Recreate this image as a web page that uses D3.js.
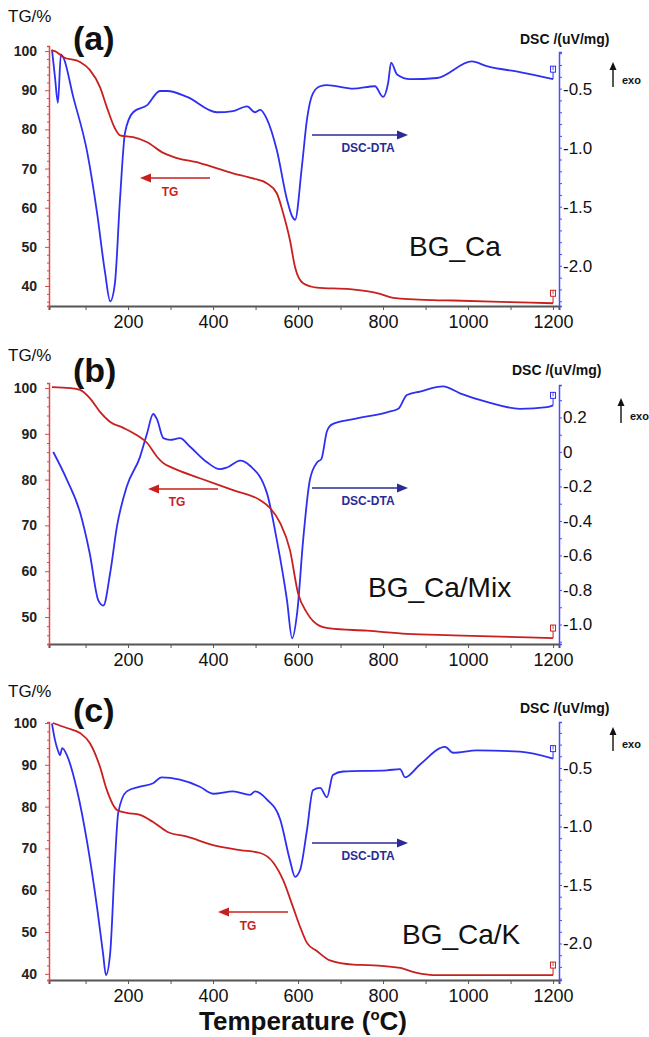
<!DOCTYPE html>
<html>
<head>
<meta charset="utf-8">
<script src="https://cdn.jsdelivr.net/npm/d3@7"></script>
<style>
  body { margin: 0; background: #fff; }
  svg { display: block; font-family: "Liberation Sans", Arial, sans-serif; }
</style>
</head>
<body>
<svg id="chart" width="649" height="1037"></svg>
<script>
/* global d3 */
// ---- data: [temperature °C, value] ----
var tempTicks = [200, 400, 600, 800, 1000, 1200];
var sampleNames = ["BG_Ca", "BG_Ca/Mix", "BG_Ca/K"];
var panelLetters = ["(a)", "(b)", "(c)"];
var tgTicksA = [40, 50, 60, 70, 80, 90, 100];
var tgTicksB = [50, 60, 70, 80, 90, 100];
var tgTicksC = [40, 50, 60, 70, 80, 90, 100];
var dscTicksA = [-2.0, -1.5, -1.0, -0.5];
var dscTicksB = [-1.0, -0.8, -0.6, -0.4, -0.2, 0, 0.2];
var dscTicksC = [-2.0, -1.5, -1.0, -0.5];

var tgA = [[21,100.2],[28,100],[47,98.5],[87,97.2],[110,95.2],[134,90.8],[150,85.7],[169,80.3],[181,78.5],
  [212,78],[244,76.8],[283,74],[306,73],[369,71.4],[447,68.8],[494,67.5],[527,66.2],[550,63.7],[565,58.6],
  [581,51.7],[593,44.8],[612,40.7],[644,39.6],[722,39.2],[793,38],[824,37],[918,36.4],[965,36.3],[1100,35.9],[1200,35.6]];
var dscA = [[21,-0.17],[28,-0.40],[35,-0.62],[42,-0.21],[47,-0.23],[71,-0.57],[104,-1.04],[127,-1.55],[146,-2.06],
  [158,-2.30],[169,-2.15],[181,-1.44],[193,-0.87],[212,-0.70],[245,-0.64],[275,-0.52],[292,-0.52],[339,-0.57],
  [409,-0.70],[447,-0.69],[480,-0.65],[499,-0.70],[511,-0.68],[527,-0.76],[550,-1.02],[574,-1.44],[586,-1.58],
  [593,-1.61],[609,-1.16],[621,-0.76],[635,-0.54],[652,-0.48],[668,-0.47],[730,-0.50],[781,-0.48],[800,-0.57],
  [812,-0.45],[819,-0.28],[833,-0.38],[864,-0.42],[927,-0.41],[1009,-0.27],[1044,-0.31],[1122,-0.36],[1200,-0.42]];

var tgB = [[21,100.2],[64,100],[87,99.6],[110,97.8],[134,94.8],[158,92.6],[189,91.3],[221,89.7],[245,88],[268,85],
  [283,83.6],[306,82.5],[369,80.3],[447,77.7],[511,75.5],[534,73.8],[558,70.5],[581,64.6],[600,55.2],[621,50.9],
  [652,48],[675,47.5],[762,47],[856,46.3],[965,46],[1200,45.4]];
var dscB = [[24,0.0],[56,-0.16],[87,-0.35],[110,-0.59],[130,-0.86],[142,-0.89],[158,-0.70],[174,-0.43],[197,-0.20],
  [228,-0.03],[245,0.11],[259,0.22],[268,0.19],[283,0.08],[299,0.07],[322,0.08],[346,0.03],[386,-0.06],[416,-0.10],
  [433,-0.09],[464,-0.05],[487,-0.08],[527,-0.24],[550,-0.51],[574,-0.86],[586,-1.08],[598,-0.93],[612,-0.51],
  [628,-0.16],[645,-0.06],[655,-0.04],[668,0.12],[680,0.16],[730,0.19],[809,0.23],[836,0.25],[856,0.33],[887,0.35],
  [941,0.38],[981,0.34],[1044,0.29],[1122,0.25],[1186,0.26],[1200,0.27]];

var tgC = [[23,100],[56,98.8],[87,97.6],[110,95.2],[134,89.5],[150,84],[174,79.2],[197,78.5],[228,78],[259,76.3],
  [292,74],[339,72.8],[400,70.8],[464,69.6],[511,68.9],[541,66.7],[565,62.4],[588,56],[605,51.2],[621,47.4],
  [645,45.4],[675,43.2],[730,42.2],[762,42.1],[840,41.4],[880,40.2],[918,39.7],[1200,39.7]];
var dscC = [[21,-0.12],[28,-0.26],[35,-0.35],[40,-0.39],[45,-0.33],[56,-0.39],[80,-0.69],[104,-1.14],[127,-1.69],
  [141,-2.08],[148,-2.27],[158,-2.08],[169,-1.31],[177,-0.88],[197,-0.70],[228,-0.66],[259,-0.63],[279,-0.58],
  [322,-0.60],[369,-0.66],[400,-0.72],[447,-0.70],[487,-0.73],[499,-0.70],[527,-0.77],[558,-0.94],[581,-1.29],
  [593,-1.43],[605,-1.37],[621,-1.03],[635,-0.69],[652,-0.67],[668,-0.75],[682,-0.56],[706,-0.53],[809,-0.52],
  [840,-0.51],[852,-0.58],[887,-0.47],[946,-0.32],[965,-0.37],[1021,-0.35],[1122,-0.36],[1200,-0.42]];

var RED = "#c8201e", BLUE = "#2f2ff2", NAVY = "#2b2b96", AXRED = "#e04848", AXBLUE = "#4b4bff";

var svg = d3.select("#chart");
var x = d3.scaleLinear().domain([14, 1214]).range([49, 559]);

// layout of the three stacked panels (pixels), scales built from the data arrays
var panels = [
  {tg: tgA, dsc: dscA, tgTicks: tgTicksA, dscTicks: dscTicksA, top: 46, dscTop: 52, bottom: 306,
    tgDomain: [34.9, 101.3], dscDomain: [-2.34, -0.19],
    tgArrow: [210, 140, 178], tgText: [170, 196], dscArrow: [312, 408, 135], dscText: [368, 152],
    name: [409, 256], letter: [73, 50], tgLabel: [8, 22], dscLabel: [520, 44], exo: [613, 62, 87]},
  {tg: tgB, dsc: dscB, tgTicks: tgTicksB, dscTicks: dscTicksB, top: 383, dscTop: 385, bottom: 644,
    tgDomain: [44.1, 101.1], dscDomain: [-1.113, 0.388],
    tgArrow: [218, 148, 489], tgText: [177, 506], dscArrow: [312, 408, 488], dscText: [368, 505],
    name: [368, 597], letter: [73, 382], tgLabel: [8, 361], dscLabel: [512, 375], exo: [621, 398, 423]},
  {tg: tgC, dsc: dscC, tgTicks: tgTicksC, dscTicks: dscTicksC, top: 722, dscTop: 722, bottom: 980,
    tgDomain: [38.52, 100.24], dscDomain: [-2.312, -0.107],
    tgArrow: [288, 218, 912], tgText: [248, 930], dscArrow: [312, 408, 843], dscText: [368, 860],
    name: [402, 944], letter: [73, 722], tgLabel: [8, 697], dscLabel: [520, 713], exo: [613, 727, 751]}
];

function fmtDsc(v) { return Math.abs(v) < 1e-9 ? "0" : v.toFixed(1); }
function near(list, v) { return list.some(function (t) { return Math.abs(t - v) < 1e-6; }); }

function arrow(g, x1, x2, y, color) {
  var dir = x2 > x1 ? 1 : -1;
  g.append("line").attr("x1", x1).attr("x2", x2 - dir * 8).attr("y1", y).attr("y2", y)
    .attr("stroke", color).attr("stroke-width", 1.6);
  g.append("path")
    .attr("d", "M" + x2 + "," + y + "L" + (x2 - dir * 11) + "," + (y - 4.5) + "L" + (x2 - dir * 11) + "," + (y + 4.5) + "Z")
    .attr("fill", color);
}

function endMarker(g, px, py, color) {
  g.append("line").attr("x1", px).attr("x2", px).attr("y1", py).attr("y2", py - 7)
    .attr("stroke", color).attr("stroke-width", 1);
  g.append("rect").attr("x", px - 2.5).attr("y", py - 13).attr("width", 5).attr("height", 6)
    .attr("fill", "none").attr("stroke", color).attr("stroke-width", 1);
  g.append("line").attr("x1", px).attr("x2", px).attr("y1", py - 13).attr("y2", py - 9)
    .attr("stroke", color).attr("stroke-width", 0.8);
}

panels.forEach(function (p, i) {
  var g = svg.append("g").attr("class", "panel");
  var yTG = d3.scaleLinear().domain(p.tgDomain).range([p.bottom, p.top]);
  var yDSC = d3.scaleLinear().domain(p.dscDomain).range([p.bottom, p.dscTop]);

  // x axis
  var xa = g.append("g").attr("transform", "translate(0," + p.bottom + ")")
    .call(d3.axisBottom(x).tickValues(d3.range(100, 1201, 100)).tickSizeOuter(0).tickSize(4)
      .tickFormat(function (d) { return near(tempTicks, d) ? d : ""; }));
  xa.select(".domain").attr("stroke", "#555").attr("stroke-width", 2);
  xa.selectAll(".tick line").attr("stroke", "#555");
  xa.selectAll(".tick text").attr("y", 9).attr("font-size", 18).attr("fill", "#111")
    .attr("font-family", "Liberation Sans, Arial, sans-serif");

  // left TG axis (red, dense ticks)
  var tgMinor = d3.range(Math.ceil(p.tgDomain[0] / 2) * 2, p.tgDomain[1], 2);
  var la = g.append("g").attr("transform", "translate(49,0)")
    .call(d3.axisLeft(yTG).tickValues(tgMinor).tickSizeOuter(0).tickSize(2)
      .tickFormat(function (d) { return near(p.tgTicks, d) ? d : ""; }));
  la.select(".domain").attr("stroke", AXRED).attr("stroke-width", 1.5);
  la.selectAll(".tick line").attr("stroke", AXRED)
    .attr("x2", function (d) { return near(p.tgTicks, d) ? -4 : -2; });
  la.selectAll(".tick text").attr("x", -12).attr("font-size", 14).attr("font-weight", "bold")
    .attr("fill", "#222").attr("font-family", "Liberation Sans, Arial, sans-serif");

  // right DSC axis (blue)
  var dMinor = d3.range(Math.ceil(p.dscDomain[0] * 10), Math.floor(p.dscDomain[1] * 10) + 1)
    .map(function (k) { return k / 10; });
  var ra = g.append("g").attr("transform", "translate(559,0)")
    .call(d3.axisRight(yDSC).tickValues(dMinor).tickSizeOuter(0).tickSize(3)
      .tickFormat(function (d) { return near(p.dscTicks, d) ? fmtDsc(d) : ""; }));
  ra.select(".domain").attr("stroke", AXBLUE).attr("stroke-width", 1.5);
  ra.selectAll(".tick line").attr("stroke", AXBLUE);
  ra.selectAll(".tick text").attr("x", 4).attr("font-size", 17).attr("fill", "#111")
    .attr("font-family", "Liberation Sans, Arial, sans-serif");

  // curves
  var lineTG = d3.line().x(function (d) { return x(d[0]); }).y(function (d) { return yTG(d[1]); })
    .curve(d3.curveMonotoneX);
  var lineDSC = d3.line().x(function (d) { return x(d[0]); }).y(function (d) { return yDSC(d[1]); })
    .curve(d3.curveMonotoneX);
  g.append("path").datum(p.dsc).attr("d", lineDSC).attr("fill", "none")
    .attr("stroke", BLUE).attr("stroke-width", 1.8).attr("stroke-linejoin", "round");
  g.append("path").datum(p.tg).attr("d", lineTG).attr("fill", "none")
    .attr("stroke", RED).attr("stroke-width", 1.8).attr("stroke-linejoin", "round");

  var lt = p.tg[p.tg.length - 1], ld = p.dsc[p.dsc.length - 1];
  endMarker(g, x(lt[0]), yTG(lt[1]), RED);
  endMarker(g, x(ld[0]), yDSC(ld[1]), BLUE);

  // annotations
  arrow(g, p.tgArrow[0], p.tgArrow[1], p.tgArrow[2], RED);
  g.append("text").attr("x", p.tgText[0]).attr("y", p.tgText[1]).attr("text-anchor", "middle")
    .attr("font-size", 12).attr("font-weight", "bold").attr("fill", RED).text("TG");
  arrow(g, p.dscArrow[0], p.dscArrow[1], p.dscArrow[2], NAVY);
  g.append("text").attr("x", p.dscText[0]).attr("y", p.dscText[1]).attr("text-anchor", "middle")
    .attr("font-size", 12).attr("font-weight", "bold").attr("fill", NAVY).text("DSC-DTA");

  g.append("text").attr("x", p.name[0]).attr("y", p.name[1]).attr("font-size", 28)
    .attr("fill", "#111").text(sampleNames[i]);
  g.append("text").attr("x", p.letter[0]).attr("y", p.letter[1]).attr("font-size", 34)
    .attr("font-weight", "bold").attr("fill", "#111").text(panelLetters[i]);
  g.append("text").attr("x", p.tgLabel[0]).attr("y", p.tgLabel[1]).attr("font-size", 17)
    .attr("fill", "#111").text("TG/%");
  g.append("text").attr("x", p.dscLabel[0]).attr("y", p.dscLabel[1]).attr("font-size", 14)
    .attr("font-weight", "bold").attr("fill", "#111").text("DSC /(uV/mg)");

  // exo arrow
  g.append("line").attr("x1", p.exo[0]).attr("x2", p.exo[0]).attr("y1", p.exo[1] + 6).attr("y2", p.exo[2])
    .attr("stroke", "#111").attr("stroke-width", 1.4);
  g.append("path").attr("d", "M" + p.exo[0] + "," + p.exo[1] + "L" + (p.exo[0] - 3.5) + "," + (p.exo[1] + 8) +
    "L" + (p.exo[0] + 3.5) + "," + (p.exo[1] + 8) + "Z").attr("fill", "#111");
  g.append("text").attr("x", p.exo[0] + 9).attr("y", p.exo[2] - 3).attr("font-size", 11)
    .attr("font-weight", "bold").attr("fill", "#111").text("exo");
});

// shared axis title
var title = svg.append("text").attr("x", 303).attr("y", 1030).attr("text-anchor", "middle")
  .attr("font-size", 26).attr("font-weight", "bold").attr("fill", "#111");
title.append("tspan").text("Temperature (");
title.append("tspan").attr("font-size", 15).attr("dy", -10).text("o");
title.append("tspan").attr("dy", 10).text("C)");
</script>
</body>
</html>
